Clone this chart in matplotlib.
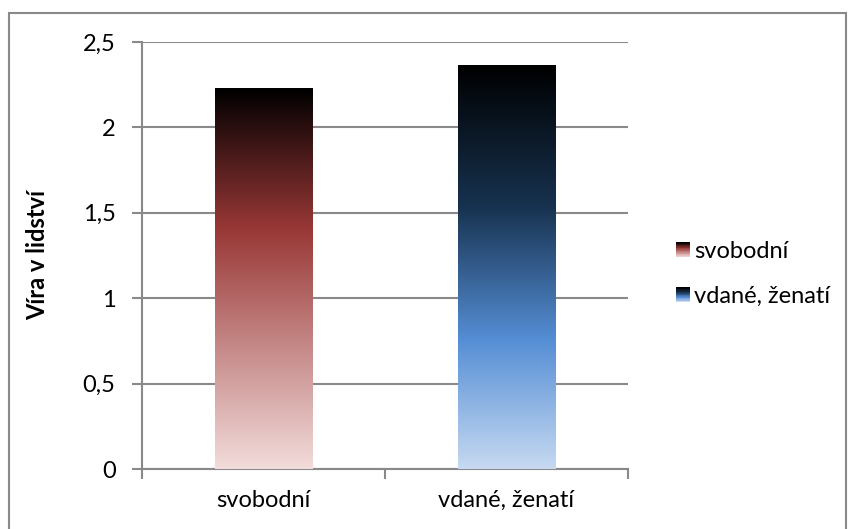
import matplotlib.pyplot as plt
import numpy as np
from matplotlib.colors import LinearSegmentedColormap
from matplotlib.legend_handler import HandlerBase
from matplotlib.patches import Rectangle

# data
categories = ['svobodní', 'vdané, ženatí']
values = [2.23, 2.365]
y_ticks = [0, 0.5, 1, 1.5, 2, 2.5]
y_ticklabels = ['0', '0,5', '1', '1,5', '2', '2,5']
y_label = 'Víra v lidství'

# gradients (bottom -> top)
cmap_red = LinearSegmentedColormap.from_list('red', [
    (0.0, '#f2dcdb'), (0.63, '#993836'), (1.0, '#000000')])
cmap_blue = LinearSegmentedColormap.from_list('blue', [
    (0.0, '#c6d9f1'), (0.32, '#558ed5'), (0.65, '#17324f'), (1.0, '#000000')])
cmaps = [cmap_red, cmap_blue]

plt.rcParams['font.family'] = ['Lato', 'DejaVu Sans']
grid_col = '#898989'
fs = 17

fig = plt.figure(figsize=(8.49, 5.29), dpi=100)
ax = fig.add_axes([142 / 849, 60 / 529, (628 - 142) / 849, (469 - 42) / 529])

x = np.arange(len(categories))
bars = ax.bar(x, values, width=0.4, color='none', zorder=3)
grad = np.linspace(0, 1, 256).reshape(-1, 1)
for b, cm in zip(bars, cmaps):
    x0, y0 = b.get_x(), b.get_y()
    im = ax.imshow(grad, cmap=cm, origin='lower', aspect='auto',
                   extent=[x0, x0 + b.get_width(), y0, y0 + b.get_height()],
                   zorder=3)
    im.set_clip_path(b)

ax.set_xlim(-0.5, len(categories) - 0.5)
ax.set_ylim(0, 2.5)
ax.set_yticks(y_ticks)
ax.set_yticklabels(y_ticklabels)
ax.set_xticks(x)
ax.set_xticklabels(categories)
ax.set_xticks(np.arange(-0.5, len(categories)), minor=True)
ax.tick_params(axis='x', which='major', length=0, pad=15, labelsize=fs)
ax.tick_params(axis='x', which='minor', length=7, width=1.5, color=grid_col, direction='out')
ax.tick_params(axis='y', length=7, width=1.5, color=grid_col, pad=12, labelsize=fs)
ax.yaxis.grid(True, color=grid_col, linewidth=1.5, zorder=0)
ax.set_axisbelow(True)
for s in ['top', 'right']:
    ax.spines[s].set_visible(False)
for s in ['left', 'bottom']:
    ax.spines[s].set_color(grid_col)
    ax.spines[s].set_linewidth(1.5)
ax.set_ylabel(y_label, fontsize=fs, fontweight='bold', va='center')
ax.yaxis.set_label_coords((38 - 142) / 486, 0.5)


class GradientHandler(HandlerBase):
    def __init__(self, cmap):
        super().__init__()
        self.cmap = cmap

    def create_artists(self, legend, orig_handle, xdescent, ydescent,
                       width, height, fontsize, trans):
        n = 20
        arts = []
        for i in range(n):
            r = Rectangle((-xdescent, -ydescent + height * i / n), width, height / n + 0.3,
                          facecolor=self.cmap(i / (n - 1)), edgecolor='none',
                          transform=trans)
            arts.append(r)
        return arts


handles = [Rectangle((0, 0), 1, 1) for _ in categories]
fig.legend(handles, categories, loc='center left', bbox_to_anchor=(676 / 849, 0.482),
           frameon=False, fontsize=fs, handlelength=0.6, handleheight=0.6,
           handletextpad=0.15, labelspacing=1.0, borderpad=0, borderaxespad=0,
           handler_map={h: GradientHandler(c) for h, c in zip(handles, cmaps)})

# outer chart border
fig.patches.append(Rectangle((9 / 849, -0.02), (846 - 9) / 849, (529 - 13) / 529 + 0.02,
                             transform=fig.transFigure, fill=False,
                             edgecolor=grid_col, linewidth=1.5))

fig.savefig('out.png', dpi=100)
